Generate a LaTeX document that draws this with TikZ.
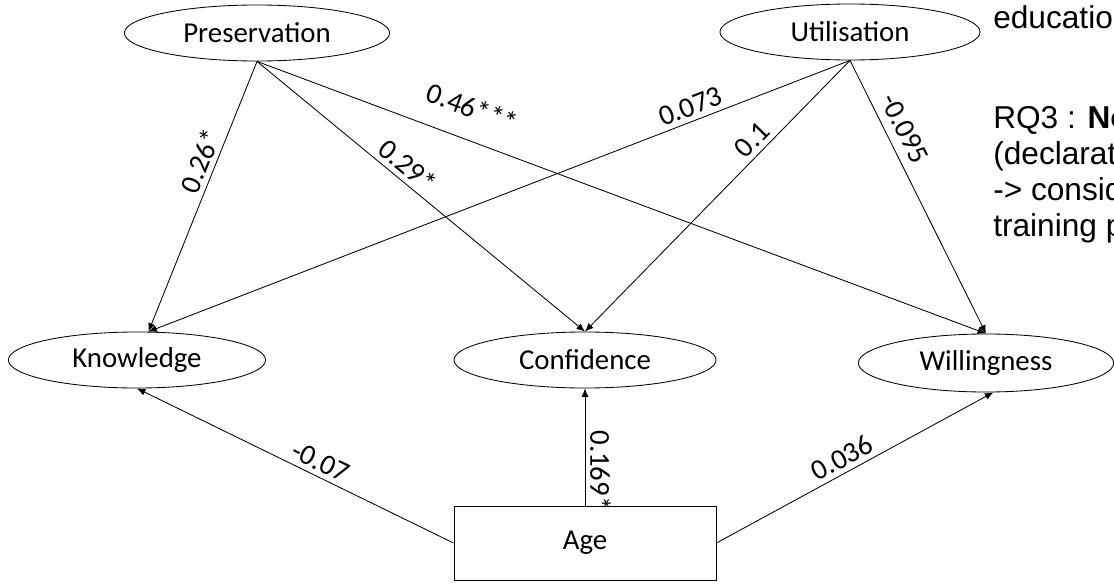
\documentclass[tikz,border=0pt]{standalone}
\usepackage{fontspec}
\usetikzlibrary{shapes.geometric,arrows.meta,positioning}
\newfontfamily\calibri{Carlito}
\newfontfamily\arialfont{Liberation Sans}
\newcommand{\lblfont}{\calibri\fontsize{20.5}{24}\selectfont}

\begin{document}
\begin{tikzpicture}[x=0.025cm, y=-0.025cm, >={Latex[length=6pt,width=5pt]},
    latent/.style={ellipse, draw, line width=0.6pt, inner sep=0pt, minimum height=1.4cm, font=\lblfont},
    observed/.style={rectangle, draw, line width=0.6pt, inner sep=0pt, font=\lblfont},
    arr/.style={->, line width=0.6pt},
    arrt/.style={sloped, above, font=\lblfont},
    note/.style={anchor=base west, inner sep=0pt, font=\arialfont\fontsize{22.5}{26}\selectfont}]
    \useasboundingbox (0,0) rectangle (1114,585);

    \node[latent, minimum width=6.63cm] (pres) at (257,33) {Preservation};
    \node[latent, minimum width=6.5cm] (util) at (850,32) {Utilisation};
    \node[latent, minimum width=6.43cm] (know) at (137,360) {Knowledge};
    \node[latent, minimum width=6.55cm] (conf) at (585,360) {Confidence};
    \node[latent, minimum width=6.38cm, minimum height=1.45cm] (will) at (986,363) {Willingness};
    \node[observed, minimum width=6.55cm, minimum height=1.85cm] (age) at (585,543) {Age};

    \draw[arr] (pres.south) -- node[arrt, pos=0.39] {0.26*} (know.68);
    \draw[arr] (pres.south) -- node[arrt, pos=0.43] {0.29*} (conf.north);
    \draw[arr] (pres.south) -- node[arrt, pos=0.28, above=12pt] {0.46***} (will.north);

    \draw[arr] (util.south) -- node[arrt, pos=0.22] {0.073} (know.68);
    \draw[arr] (util.south) -- node[arrt, pos=0.33] {0.1} (conf.north);
    \draw[arr] (util.south) -- node[arrt, pos=0.28, above=3pt] {-0.095} (will.north);

    \draw[arr] (age.west) -- node[arrt, pos=0.44] {-0.07} (know.south);
    \draw[arr] (age.north) -- node[pos=0.3, anchor=south, rotate=-90, font=\lblfont] {0.169*} (conf.south);
    \draw[arr] (age.east) -- node[arrt, pos=0.48] {0.036} (will.-76);

    % cut-off notes on the right
    \node[note] (n1) at (993,29) {educatio};
    \node[note] (n2) at (993,128) {RQ3 : \textbf{No}};
    \node[note] (n3) at (993,164) {(declarat};
    \node[note] (n4) at (993,200) {-> consid};
    \node[note] (n5) at (993,236) {training p};
\end{tikzpicture}
\end{document}
